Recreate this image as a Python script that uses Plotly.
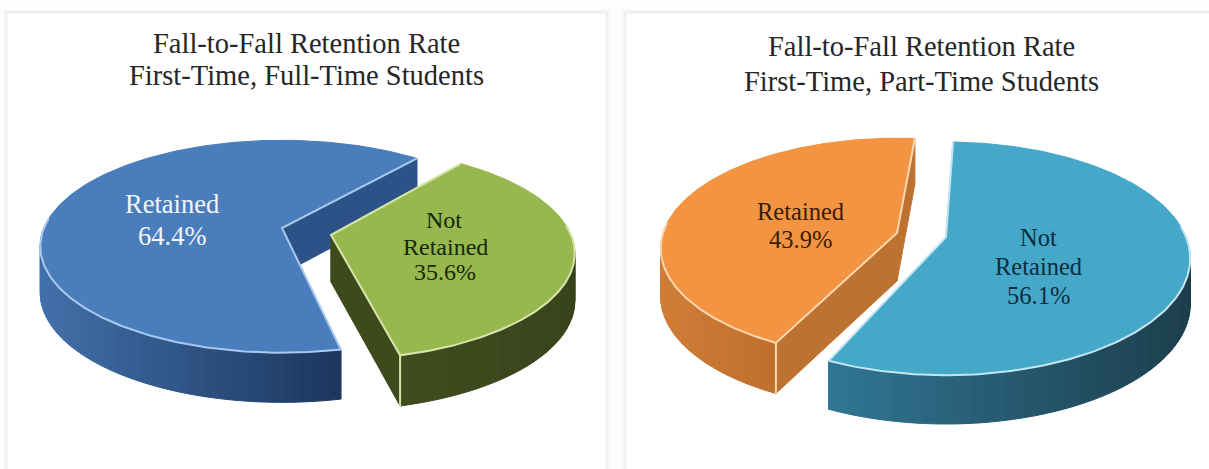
import numpy as np
import plotly.graph_objects as go

# values, in percent
full_time_labels = ["Retained", "Not Retained"]
full_time_values = [64.4, 35.6]
part_time_labels = ["Retained", "Not Retained"]
part_time_values = [43.9, 56.1]

TEXT_FONT = "Liberation Serif"


def mix(c1, c2, f):
    rgb = [round(a + (b - a) * f) for a, b in zip(c1, c2)]
    return f"rgb({rgb[0]},{rgb[1]},{rgb[2]})"


def project(t_deg, ax, ay, a, b, k):
    # rim of a tilted disc seen with some perspective
    t = np.radians(t_deg)
    s = 1 / (1 + k * np.sin(t))
    return ax + a * np.cos(t) * s, ay - b * np.sin(t) * s, s


def add_wedge(fig, value, start, direction, apex, shape, depth, top, edge, wall,
              side_from, side_to, front_edge=False):
    ax, ay = apex
    a, b, k = shape
    sweep = value / 100 * 360
    t = np.linspace(start, start + direction * sweep, 241)
    rx, ry, s = project(t, ax, ay, a, b, k)
    drop = depth * s ** 0.4

    # flat cut walls go first, the top face hides what should not show
    for i in (0, -1):
        fig.add_trace(go.Scatter(
            x=[ax, rx[i], rx[i], ax, ax],
            y=[ay, ry[i], ry[i] + drop[i], ay + depth, ay],
            mode="lines", fill="toself", fillcolor=wall,
            line=dict(color=wall, width=1), hoverinfo="skip"))

    # outer wall as thin strips for the gradient, front of the disc only
    front = np.sin(np.radians(t)) < 0.1
    x_min, x_max = rx[front].min(), rx[front].max()
    for i in range(0, len(t) - 2, 2):
        if not front[i:i + 3].all():
            continue
        xs = rx[i:i + 3]
        ys = ry[i:i + 3]
        low = ys + drop[i:i + 3]
        f = (xs.mean() - x_min) / (x_max - x_min)
        color = mix(side_from, side_to, f)
        fig.add_trace(go.Scatter(
            x=list(xs) + list(xs[::-1]) + [xs[0]],
            y=list(ys) + list(low[::-1]) + [ys[0]],
            mode="lines", fill="toself", fillcolor=color,
            line=dict(color=color, width=1), hoverinfo="skip"))

    if front_edge:
        fig.add_trace(go.Scatter(
            x=[rx[-1], rx[-1]], y=[ry[-1], ry[-1] + drop[-1]], mode="lines",
            line=dict(color=edge, width=2), hoverinfo="skip"))

    fig.add_trace(go.Scatter(
        x=[ax] + list(rx) + [ax], y=[ay] + list(ry) + [ay],
        mode="lines", fill="toself", fillcolor=top,
        line=dict(color=top, width=1), hoverinfo="skip"))

    # light bevel along the cuts and the front of the rim
    front_idx = np.where(front)[0]
    hx = [rx[0], ax, rx[-1]] + list(rx[front_idx][::-1])
    hy = [ry[0], ay, ry[-1]] + list(ry[front_idx][::-1])
    fig.add_trace(go.Scatter(x=hx, y=hy, mode="lines",
                             line=dict(color=edge, width=2), hoverinfo="skip"))


fig = go.Figure()

# left pie, first-time full-time
add_wedge(fig, full_time_values[0], 50, 1, (282, 228), (238, 103, 0.174), 46,
          "#4a7dbb", "#a9c9ee", "#2c5288", (66, 112, 170), (28, 54, 94))
add_wedge(fig, full_time_values[1], 52, -1, (331, 235), (240, 103, 0.174), 47,
          "#97b84e", "#d5e5a8", "#3f4a1c", (64, 76, 30), (58, 68, 28), front_edge=True)

# right pie, first-time part-time
add_wedge(fig, part_time_values[0], 85, 1, (897, 233), (234, 108, 0.139), 48,
          "#f29441", "#fbd8b0", "#bd7231", (208, 125, 55), (190, 112, 45), front_edge=True)
add_wedge(fig, part_time_values[1], 88, -1, (946, 237), (240, 112.6, 0.185), 45,
          "#46a8c8", "#c4e6f2", "#2f7088", (48, 118, 148), (28, 62, 76))

texts = [
    ("Fall-to-Fall Retention Rate", 306, 43, 28.5, "#262626"),
    ("First-Time, Full-Time Students", 306, 75, 28.5, "#262626"),
    ("Fall-to-Fall Retention Rate", 921, 46, 28.5, "#262626"),
    ("First-Time, Part-Time Students", 921, 81, 28.5, "#262626"),
    ("Retained", 172, 204, 26.5, "#f2f6fb"),
    (f"{full_time_values[0]}%", 172, 236, 26.5, "#f2f6fb"),
    ("Not", 444, 220, 24, "#17280a"),
    ("Retained", 445, 247, 24, "#17280a"),
    (f"{full_time_values[1]}%", 445, 272, 24, "#17280a"),
    ("Retained", 800, 211, 24.5, "#3a1c06"),
    (f"{part_time_values[0]}%", 800, 239, 24.5, "#3a1c06"),
    ("Not", 1038, 237, 24.5, "#0b2e3f"),
    ("Retained", 1038, 266, 24.5, "#0b2e3f"),
    (f"{part_time_values[1]}%", 1038, 295, 24.5, "#0b2e3f"),
]
for text, x, y, size, color in texts:
    fig.add_annotation(x=x, y=y, text=text, showarrow=False,
                       font=dict(family=TEXT_FONT, size=size, color=color))

# the two chart cards
cards = [(6, 12, 607, 480), (625, 12, 1215, 480)]
shapes = [dict(type="rect", x0=c[0], y0=c[1], x1=c[2], y1=c[3], layer="below",
               line=dict(color="#f0f0f0", width=3), fillcolor="white") for c in cards]

fig.update_layout(
    width=1209, height=469,
    margin=dict(l=0, r=0, t=0, b=0),
    paper_bgcolor="#fdfdfd", plot_bgcolor="#fdfdfd",
    showlegend=False,
    shapes=shapes,
    xaxis=dict(range=[0, 1209], visible=False, fixedrange=True),
    yaxis=dict(range=[469, 0], visible=False, fixedrange=True),
)

fig.write_html("out.html", post_script="document.body.style.margin='0';", config=dict(displayModeBar=False))
